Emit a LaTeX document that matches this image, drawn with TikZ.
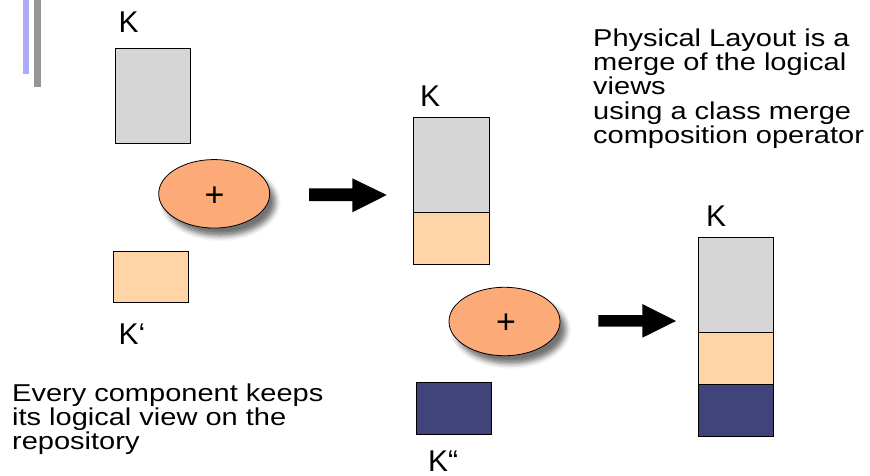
\documentclass[tikz,border=0pt]{standalone}
\usepackage{fontspec}
\setmainfont{Liberation Sans}
\usepackage{graphicx}
\usetikzlibrary{shapes.geometric,shadows.blur}
\definecolor{boxgray}{RGB}{214,214,214}
\definecolor{peach}{RGB}{255,213,168}
\definecolor{navy}{RGB}{65,68,122}
\definecolor{opfill}{RGB}{252,170,120}
\definecolor{barblue}{RGB}{170,170,255}
\definecolor{bargray}{RGB}{150,150,150}
\newcommand{\sqtext}[1]{\scalebox{1}[0.84]{\fontsize{29}{25.7}\selectfont\begin{tabular}[t]{@{}l@{}}#1\end{tabular}}}
\tikzset{
  blk/.style={draw=black, line width=0.9pt, inner sep=0pt, outer sep=0pt, anchor=north west},
  lbl/.style={font=\fontsize{30}{36}\selectfont, anchor=base west, inner sep=0pt},
  opnode/.style={ellipse, draw=black, line width=0.8pt, fill=opfill, minimum width=111pt,
    minimum height=68.5pt, inner sep=0pt, font=\fontsize{34}{38}\selectfont,
    blur shadow={shadow xshift=6pt, shadow yshift=-8pt, shadow blur radius=5pt, shadow opacity=55}},
  txt/.style={anchor=base west, inner sep=0pt},
  fatarrow/.style={fill=black}
}
\begin{document}
\begin{tikzpicture}[x=1pt,y=-1pt]
\useasboundingbox (0,0) rectangle (870,475);
% decorative bars
\fill[barblue] (22.7,0) rectangle (28.7,74);
\fill[bargray] (33.7,0) rectangle (40.7,86.7);
% left column
\node[lbl] (k1) at (118.5,32) {K};
\node[blk, fill=boxgray, minimum width=75.3pt, minimum height=95.4pt] (g1) at (115,48.3) {};
\node[opnode] (op1) at (214.2,193.8) {};
\node[font=\fontsize{34}{38}\selectfont, inner sep=0pt] (plus1) at (214.5,196.5) {+};
\node[blk, fill=peach, minimum width=75.4pt, minimum height=51pt] (p1) at (113.3,251.7) {};
\node[lbl] (k1p) at (118.5,344.3) {K‘};
% first arrow
\fill[fatarrow] (309,188.4) -- (352.3,188.4) -- (352.3,178.3) -- (386.7,195) -- (352.3,212.3) -- (352.3,201.2) -- (309,201.2) -- cycle;
% middle stack
\node[lbl] (k2) at (420,106.7) {K};
\node[blk, fill=boxgray, minimum width=75.7pt, minimum height=95pt] (g2) at (413.3,117.3) {};
\node[blk, fill=peach, minimum width=75.7pt, minimum height=51.7pt] (p2) at (g2.south west) {};
\node[opnode] (op2) at (504.5,321.5) {};
\node[font=\fontsize{34}{38}\selectfont, inner sep=0pt] (plus2) at (506,323.3) {+};
\node[blk, fill=navy, minimum width=75.4pt, minimum height=51.6pt] (n2) at (416.3,382.7) {};
\node[lbl] (k2pp) at (428,471.5) {K“};
% second arrow
\fill[fatarrow] (598.3,315) -- (642.3,315) -- (642.3,304) -- (676,321) -- (642.3,337.7) -- (642.3,326.7) -- (598.3,326.7) -- cycle;
% right stack
\node[lbl] (k3) at (706,226) {K};
\node[blk, fill=boxgray, minimum width=75pt, minimum height=95.4pt] (g3) at (698.3,237.3) {};
\node[blk, fill=peach, minimum width=75pt, minimum height=51.6pt] (p3) at (g3.south west) {};
\node[blk, fill=navy, minimum width=75pt, minimum height=51.7pt] (n3) at (p3.south west) {};
% texts
\node[txt] (t1) at (593,46.7) {\sqtext{Physical Layout is a\\merge of the logical\\views\\using a class merge\\composition operator}};
\node[txt] (t2) at (12,401.7) {\sqtext{Every component keeps\\its logical view on the\\repository}};
\end{tikzpicture}
\end{document}
